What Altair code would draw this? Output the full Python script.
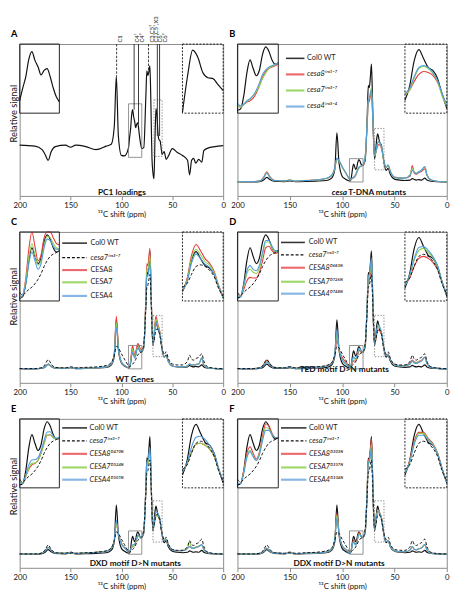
import altair as alt
import pandas as pd

FONT = "Lato"

# ---------------- data ----------------
ppm = [200, 185, 178, 175, 172, 169, 165, 155, 150, 145,
       135, 125, 115, 110, 107, 105, 103, 100, 97, 93,
       92, 91, 90, 89, 88, 87, 86, 85, 84, 83,
       82, 81, 80, 78, 76, 75, 74, 73, 72, 71,
       70, 69, 68, 67, 66, 65, 64, 63, 62, 61,
       60, 58, 56, 54, 50, 45, 40, 35, 33, 31,
       29, 27, 24, 21, 19, 15, 8, 0]

pc1_loadings = [0.5, -0.5, -4, -9, -15, -6, -1, 0.5, -1.5, 0.5,
                -1, -4, -0.5, 1.5, 20, 71.5, 10, -10, -10.5, -2,
                8, 17, 31, 37, 30, 25, 18.5, 22, 23.5, 17,
                8, 1, -3, -2, 50, 77, 72, 76, 82, 42,
                -12, -28, -34, 8, 38, 30, 12, 6, 5, -2,
                -9, -6, -14, -11, -3, -7, -10, -15, -30, -15,
                -13, -18, -14, -17, -5, -2.5, -1, 0]

col0_wt = [0.3, 0.0, 0.6, 2.0, 4.8, 2.5, 0.8, 0.4, 1.2, 0.3,
           0.5, 0.9, 1.5, 4.0, 13, 50.5, 20, 6, 3, 1,
           1.5, 6, 14, 18.5, 15.5, 13, 15, 20.5, 23, 21.5,
           18.5, 17, 17.5, 22, 68, 99, 97, 108, 121, 86,
           44, 24, 31, 44, 49.5, 45, 40.5, 39, 35, 27,
           20, 12, 14, 8, 3, 2, 1.5, 2, 3.5, 2.5,
           2, 2.5, 2, 4, 2, 0.8, 0.3, 0]

cesa7_irx3_7 = [0.3, 0.3, 1.2, 4.5, 9.5, 5, 1.5, 1, 2.2, 1,
                1.5, 2, 3.5, 6.5, 14, 23, 21.5, 15.5, 10, 3,
                2, 3, 4, 4.8, 6, 7.5, 9.5, 12, 14, 15.5,
                16.3, 16.8, 17.5, 26, 62, 84, 86, 92, 97, 76,
                46, 27, 29, 35, 40, 41, 40, 37.5, 33.5, 26,
                21, 15, 17.5, 11, 5, 4, 4, 8, 14, 10,
                9, 10.5, 12, 15.5, 8, 2, 0.6, 0.2]

cesa8_irx1_7 = [0.2, 0.4, 1.5, 5, 10.5, 5.5, 1.8, 1.2, 2, 0.8,
                1.6, 2.2, 3.5, 6.5, 14, 24, 22, 15.5, 10, 3,
                2, 3, 3.8, 4.3, 5.2, 7, 9.5, 12.5, 14.5, 15.5,
                16, 16.5, 17, 25, 60, 81, 83, 88, 91, 72,
                45, 27, 29, 33.5, 37, 38.5, 38, 36.5, 33, 27,
                21, 15, 17, 11, 5, 4.5, 4, 6, 17, 9,
                8, 9.5, 11, 13.5, 7, 2, 0.5, 0.3]

cesa4_irx5_4 = [0.2, 0.4, 1.2, 4.2, 9, 4.8, 1.5, 1.1, 2, 1,
                1.5, 2, 3.8, 7, 15, 24.5, 22, 16, 10.5, 3.5,
                2.5, 3.2, 4.3, 5, 6.2, 8, 10.5, 13.5, 15, 16,
                16.5, 17, 17.5, 26, 62, 84, 86, 91, 95, 75,
                46, 27.5, 30, 36, 40.5, 41.5, 40.5, 38, 34, 27.5,
                21.5, 15, 17.5, 11, 5, 4, 4, 7, 12, 9.5,
                9, 10, 12.5, 16, 8, 2, 0.6, 0.2]

wt_cesa8 = [0.3, 0.2, 0.8, 2.2, 4.5, 2.6, 0.9, 0.6, 1.3, 0.5,
            0.8, 1.2, 2, 5, 17, 54, 23, 7, 3.5, 1.2,
            2, 8, 18, 24, 19, 14, 16, 22, 26, 25,
            22, 20, 19.5, 24, 74, 108, 106, 115, 124, 90,
            47, 25, 32, 47, 54, 50, 45, 42, 37, 28,
            21, 12.5, 13, 8, 3, 2.2, 2, 3, 5, 4,
            4, 4.5, 5, 11, 4, 1, 0.3, 0]

wt_cesa7 = [0.3, 0.2, 0.8, 2.3, 4.6, 2.6, 0.9, 0.6, 1.3, 0.5,
            0.8, 1.2, 2, 5, 16, 48, 22, 7, 3.5, 1.2,
            2, 7, 15, 20, 16, 12.5, 14, 19.5, 22.5, 22,
            20, 18.5, 18, 23, 71, 103, 101, 109, 117, 87,
            46, 25, 31, 45, 51, 47.5, 43, 41, 36, 27.5,
            20.5, 12.5, 13, 8, 3, 2.2, 2, 3, 5, 4,
            4, 4.5, 5, 11, 4, 1, 0.3, 0]

wt_cesa4 = [0.3, 0.2, 0.8, 2.2, 4.4, 2.5, 0.9, 0.6, 1.3, 0.5,
            0.8, 1.2, 2, 5, 15, 42.5, 21, 7, 3.5, 1.2,
            2, 6, 13, 17, 14, 11, 13, 18.5, 21.5, 21,
            19, 18, 18, 23, 67, 97, 95, 102, 109, 83,
            45, 25, 30, 42, 48, 45, 41.5, 39.5, 35, 27,
            20.5, 12.5, 13, 8, 3, 2.2, 2, 3, 5, 4,
            4, 4.5, 5, 11, 4, 1, 0.3, 0]

ted_cesa8 = [0.3, 0.3, 1.3, 4.5, 9, 5, 1.6, 1, 2, 0.8,
             1.3, 1.8, 3, 6, 14, 30, 20, 12, 7.5, 2.5,
             1.5, 4, 7, 8.2, 8, 8, 10, 14, 18.5, 19,
             17.5, 16.5, 17, 25, 66, 90, 91, 97, 102, 80,
             45, 26, 29, 35, 39, 40, 39, 37, 33.5, 27,
             21, 14.5, 15, 10, 4.5, 3.5, 3.5, 6, 9, 7,
             6.5, 7.5, 9, 12, 6, 1.6, 0.5, 0.2]

ted_cesa7 = [0.3, 0.3, 1.1, 3.8, 7.5, 4.2, 1.3, 0.9, 1.8, 0.7,
             1.1, 1.6, 2.6, 5.5, 15, 36, 21, 10, 6, 2,
             1.5, 5, 9.5, 11, 10, 9.5, 11.5, 16, 20.5, 20.5,
             18.5, 17, 17.5, 24, 67, 94, 95, 103, 110, 83,
             45, 25.5, 30, 38, 43, 44, 42, 39.5, 35, 27,
             21, 14, 14.5, 9.5, 4, 3, 3, 5, 8, 6,
             6, 7, 8.5, 12, 5.5, 1.5, 0.5, 0.2]

ted_cesa4 = [0.3, 0.3, 1, 3.5, 7, 4, 1.2, 0.8, 1.7, 0.6,
             1, 1.5, 2.5, 5.5, 15.5, 40, 21, 9, 5.5, 1.8,
             1.5, 5.5, 10.5, 12.3, 11, 10.5, 12.5, 17, 21, 21,
             19, 17.5, 17.5, 24, 67, 96, 97, 106, 114, 84,
             45, 25, 30.5, 39, 44.5, 45, 43, 40, 35.5, 27,
             21, 13.5, 14.5, 9.5, 4, 3, 3, 5, 8, 6,
             5.5, 6.5, 8, 12, 5.5, 1.5, 0.5, 0.2]

dxd_cesa8 = [0.3, 0.3, 1.2, 3.5, 7, 4, 1.4, 1, 1.8, 0.8,
             1.5, 2, 3, 6, 14, 32, 21, 11.5, 7, 2.5,
             1.5, 4, 6.5, 8, 8.5, 9.5, 12, 15.5, 18.3, 18.5,
             17.5, 17, 17, 25, 66, 92, 93, 100, 105, 81,
             45, 26, 29.5, 35.5, 39.5, 40, 39, 37, 33.5, 27,
             21, 14.5, 15, 10, 4.5, 3.5, 3.5, 6, 8, 6.5,
             6, 7, 8, 9.5, 5, 1.5, 0.5, 0.2]

dxd_cesa7 = [0.3, 0.3, 1.2, 3.6, 7, 4, 1.4, 1, 1.8, 0.8,
             1.5, 2, 3, 6, 14, 31.5, 21, 11.5, 7, 2.5,
             1.5, 4, 6.8, 8.6, 8.6, 9.6, 12, 15.5, 18.3, 18.5,
             17.5, 17, 17, 25, 65, 91, 92, 99, 104, 81,
             45, 26, 29.5, 35.5, 39.5, 40, 39, 37, 33.5, 27,
             21, 14.5, 15.5, 10, 4.5, 3.5, 4, 6.5, 13, 7,
             6.5, 7.5, 8.5, 9, 5, 1.5, 0.5, 0.2]

dxd_cesa4 = [0.3, 0.3, 1.1, 3.4, 7, 4, 1.3, 0.9, 1.7, 0.7,
             1.3, 1.8, 2.8, 6, 15, 35, 21, 10.5, 6.5, 2.2,
             1.5, 4.5, 8, 9.7, 9.8, 10.5, 13, 16.5, 19.4, 19.5,
             18, 17.3, 17.3, 24.5, 67, 95, 96, 104, 110, 83,
             45, 25.5, 30, 38, 43, 43.5, 42, 39, 35, 27,
             21, 14, 15, 10, 4.5, 3.5, 3.5, 6, 8, 6.5,
             6, 7, 8, 10, 5, 1.5, 0.5, 0.2]

ddx_cesa8 = [0.3, 0.2, 0.9, 2.8, 6, 3.3, 1.1, 0.7, 1.5, 0.5,
             1, 1.4, 2.2, 5, 16, 42, 22, 8.5, 5, 1.5,
             1.5, 6, 12, 14.3, 12, 10, 12.5, 18, 22.3, 21.5,
             19, 17.5, 17.5, 23, 68, 98, 97, 107, 119, 86,
             45, 25, 31, 41, 45.5, 45.5, 42.5, 40, 35, 27,
             20.5, 13, 14, 9, 3.5, 2.5, 2.5, 4.5, 8, 5,
             4.5, 5.5, 6.5, 10, 4.5, 1.2, 0.4, 0.1]

ddx_cesa7 = [0.3, 0.2, 0.9, 2.9, 6, 3.3, 1.1, 0.7, 1.5, 0.5,
             1, 1.4, 2.3, 5, 15.5, 40, 22, 9, 5.5, 1.6,
             1.5, 5.5, 11, 13.1, 11, 9.5, 12, 17, 21, 20.5,
             18.5, 17.5, 17.5, 23, 67, 96, 95, 104, 113, 85,
             45, 25, 30.5, 40, 45, 45, 42, 39.5, 35, 27,
             20.5, 13, 14, 9, 3.5, 2.5, 2.5, 4.5, 8, 5,
             4.5, 5.5, 6.5, 10, 4.5, 1.2, 0.4, 0.1]

ddx_cesa4 = [0.3, 0.2, 0.9, 3, 6.2, 3.4, 1.1, 0.7, 1.5, 0.5,
             1, 1.4, 2.3, 5, 15, 37, 21.5, 9, 5.5, 1.6,
             1.5, 5, 10.5, 12.6, 10.8, 9.5, 11.5, 16.5, 20, 20,
             18.5, 17.5, 17.5, 23, 66, 95, 94, 102, 110, 84,
             45, 25, 30, 39.5, 44, 44, 41.5, 39, 34.5, 27,
             20.5, 13, 14, 9, 3.5, 2.5, 2.5, 4.5, 8, 5,
             4.5, 5.5, 6.5, 10, 4.5, 1.2, 0.4, 0.1]

x_ticks = [200, 150, 100, 50, 0]
peak_labels = ["C1", "C4¹", "C4²", "C3,C5²", "C2,C5¹,X3", "C6¹", "C6²"]
peak_label_ppm = [104.1, 87.5, 83.2, 73.4, 69.1, 64.7, 60.3]

for _arr in [pc1_loadings, col0_wt, cesa7_irx3_7, cesa8_irx1_7, cesa4_irx5_4,
             wt_cesa8, wt_cesa7, wt_cesa4, ted_cesa8, ted_cesa7, ted_cesa4,
             dxd_cesa8, dxd_cesa7, dxd_cesa4, ddx_cesa8, ddx_cesa7, ddx_cesa4]:
    assert len(_arr) == len(ppm), len(_arr)

# ---------------- styles ----------------
RED, GREEN, BLUE, BLK = "#e8393e", "#8fd14f", "#4f9de0", "#111111"
STYLE = {
    "black": dict(color=BLK, strokeWidth=1.2),
    "dash": dict(color=BLK, strokeWidth=1.0, strokeDash=[3, 2]),
    "red": dict(color=RED, strokeWidth=1.1),
    "green": dict(color=GREEN, strokeWidth=1.1),
    "blue": dict(color=BLUE, strokeWidth=1.1),
}
LEG_STYLE = {
    "black": dict(color="#333333", strokeWidth=1.6),
    "dash": dict(color=BLK, strokeWidth=1.2, strokeDash=[3, 2]),
    "red": dict(color="#ec6a6e", strokeWidth=2.2),
    "green": dict(color="#9fd86a", strokeWidth=2.2),
    "blue": dict(color="#86b6e4", strokeWidth=2.2),
}

WL, WR = 209, 215
MUT = "cesa7ⁱʳˣ³⁻⁷"

panels = [
    dict(letter="A", left=True, w=WL, h=156, dom=(-51.6, 104.4), ty=71,
         series=[("pc1", pc1_loadings, "black")],
         boxL=(93, 80, -12, 43), boxR=(68, 60, -11, 47),
         insL=(93, 80, -12, 43), insR=(68, 60, -35, 45),
         legend=None, footer=[("PC1 loadings", 99.5, -47.3, "center", "normal")]),
    dict(letter="B", left=False, w=WR, h=156, dom=(-14.3, 141.7),
         series=[("col0", col0_wt, "black"), ("m8", cesa8_irx1_7, "red"),
                 ("m7", cesa7_irx3_7, "green"), ("m4", cesa4_irx5_4, "blue")],
         boxL=(93, 80, 0, 24), boxR=(69, 60, 12.5, 55),
         insL=(93, 80, 0, 24), insR=(69, 60, 17.5, 52.3),
         legend=dict(x1=153.7, x2=136, tx=133.5, rows=[127, 110.5, 94, 77.5],
                     entries=[("Col0 WT", "black", "normal"), ("cesa8ⁱʳˣ¹⁻⁷", "red", "italic"),
                              (MUT, "green", "italic"), ("cesa4ⁱʳˣ⁵⁻⁴", "blue", "italic")]),
         footer=[("cesa", 95.2, -10, "right", "italic"), ("T-DNA mutants", 94.2, -10, "left", "normal")]),
    dict(letter="C", left=True, w=WL, h=155, dom=(-14.4, 140.8), ty=66,
         series=[("col0", col0_wt, "black"), ("c8", wt_cesa8, "red"), ("c7", wt_cesa7, "green"),
                 ("c4", wt_cesa4, "blue"), ("mut", cesa7_irx3_7, "dash")],
         boxL=(93, 80, 0, 24), boxR=(69, 60, 12.5, 55),
         insL=(93, 80, 0, 24), insR=(69, 60, 18, 62),
         legend=dict(x1=158.2, x2=133.8, tx=130.5, rows=[129.3, 114.3, 101.6, 89, 75],
                     entries=[("Col0 WT", "black", "normal"), (MUT, "dash", "italic"),
                              ("CESA8", "red", "normal"), ("CESA7", "green", "normal"),
                              ("CESA4", "blue", "normal")]),
         footer=[("WT Genes", 87, -10.4, "center", "normal")]),
    dict(letter="D", left=False, w=WR, h=155, dom=(-14.4, 140.8),
         series=[("col0", col0_wt, "black"), ("t8", ted_cesa8, "red"), ("t7", ted_cesa7, "green"),
                 ("t4", ted_cesa4, "blue"), ("mut", cesa7_irx3_7, "dash")],
         boxL=(93, 80, 0, 24), boxR=(69, 60, 12.5, 55),
         insL=(93, 80, 0, 24), insR=(69, 60, 17.5, 52.3),
         legend=dict(x1=158.4, x2=135.6, tx=131.9, rows=[130, 117.3, 104, 89.6, 77.3],
                     entries=[("Col0 WT", "black", "normal"), (MUT, "dash", "italic"),
                              ("CESA8ᴰ⁶⁸³ᴺ", "red", "italic"), ("CESA7ᴰ⁷²⁶ᴺ", "green", "italic"),
                              ("CESA4ᴰ⁷⁴⁸ᴺ", "blue", "italic")]),
         footer=[("TED motif D>N mutants", 98, 0, "center", "normal")]),
    dict(letter="E", left=True, w=WL, h=153, dom=(-14, 139.3), ty=69,
         series=[("col0", col0_wt, "black"), ("x8", dxd_cesa8, "red"), ("x7", dxd_cesa7, "green"),
                 ("x4", dxd_cesa4, "blue"), ("mut", cesa7_irx3_7, "dash")],
         boxL=(93, 80, 0, 24), boxR=(69, 60, 12.5, 55),
         insL=(93, 80, 0, 24), insR=(69, 60, 17.5, 52.3),
         legend=dict(x1=158.2, x2=133.8, tx=131.3, rows=[130, 116.7, 103.3, 89.3, 76.7],
                     entries=[("Col0 WT", "black", "normal"), (MUT, "dash", "italic"),
                              ("CESA8ᴰ⁴⁷⁰ᴺ", "red", "italic"), ("CESA7ᴰ⁵²⁴ᴺ", "green", "italic"),
                              ("CESA4ᴰ⁵⁰¹ᴺ", "blue", "italic")]),
         footer=[("DXD motif D>N mutants", 86.3, -9.3, "center", "normal")]),
    dict(letter="F", left=False, w=WR, h=153, dom=(-14, 139.3),
         series=[("col0", col0_wt, "black"), ("d8", ddx_cesa8, "red"), ("d7", ddx_cesa7, "green"),
                 ("d4", ddx_cesa4, "blue"), ("mut", cesa7_irx3_7, "dash")],
         boxL=(93, 80, 0, 24), boxR=(69, 60, 12.5, 55),
         insL=(93, 80, 0, 24), insR=(69, 60, 17.5, 52.3),
         legend=dict(x1=158.4, x2=134.1, tx=131.6, rows=[130, 116.7, 103.3, 89.3, 76.7],
                     entries=[("Col0 WT", "black", "normal"), (MUT, "dash", "italic"),
                              ("CESA8ᴰ³⁰³ᴺ", "red", "italic"), ("CESA7ᴰ³⁵⁷ᴺ", "green", "italic"),
                              ("CESA4ᴰ³³⁴ᴺ", "blue", "italic")]),
         footer=[("DDX motif D>N mutants", 103, -9.3, "center", "normal")]),
]


def make_panel(cfg):
    lo_dom, T = cfg["dom"]
    xs = alt.Scale(domain=[200, 0], nice=False, zero=False)
    ys = alt.Scale(domain=[lo_dom, T], nice=False, zero=False)
    xaxis = alt.Axis(values=x_ticks, title="¹³C shift (ppm)", domain=False, grid=False,
                     ticks=True, tickSize=4, tickColor="#8a8a8a", labelFontSize=8,
                     labelPadding=2, labelColor="#111111", titleFontSize=8,
                     titleFontWeight="normal", titlePadding=1, titleColor="#111111",
                     labelFlush=False)
    if cfg["left"]:
        yaxis = alt.Axis(title="Relative signal", domain=False, grid=False, ticks=False,
                         labels=False, titleFontSize=9.5, titleFontWeight="normal",
                         titleColor="#111111", titleX=-1, titleY=cfg["ty"], titleAngle=270,
                         titleBaseline="bottom", titleAlign="center")
    else:
        yaxis = None

    def X(f):
        return alt.X(f, type="quantitative", scale=xs, axis=xaxis)

    def Y(f):
        return alt.Y(f, type="quantitative", scale=ys, axis=yaxis)

    rows = []
    for key, vals, sty in cfg["series"]:
        for p_, v_ in zip(ppm, vals):
            rows.append({"s": key, "ppm": p_, "v": v_})
    df = pd.DataFrame(rows)

    layers = []
    # main spectra
    for key, vals, sty in cfg["series"]:
        layers.append(alt.Chart(df).transform_filter(alt.datum.s == key)
                      .mark_line(interpolate="monotone", **STYLE[sty])
                      .encode(x=X("ppm"), y=Y("v")))
    # zoom boxes in main plot
    for (b0, b1, y0, y1), dash in [(cfg["boxL"], None), (cfg["boxR"], [1.5, 1.5])]:
        bdf = pd.DataFrame({"x1": [b0], "x2": [b1], "y1": [y0], "y2": [y1]})
        kw = dict(fillOpacity=0, stroke="#777777", strokeWidth=0.8)
        if dash:
            kw["strokeDash"] = dash
        layers.append(alt.Chart(bdf).mark_rect(**kw)
                      .encode(x=X("x1"), x2="x2:Q", y=Y("y1"), y2="y2:Q"))
    # insets
    ib, it = T - 71, T
    for (bx0, bx1, ylo, yhi), (ix0, ix1), dash in [(cfg["insL"], (200, 161), None),
                                                   (cfg["insR"], (40, 0), [2, 1.5])]:
        sx = (ix1 - ix0) / (bx1 - bx0)
        sy = (it - ib) / (yhi - ylo)
        for key, vals, sty in cfg["series"]:
            layers.append(
                alt.Chart(df)
                .transform_filter(f"datum.s == '{key}' && datum.ppm <= {bx0 + 1e-6} && datum.ppm >= {bx1 - 1e-6}")
                .transform_calculate(
                    IX=f"{ix0} + (datum.ppm - ({bx0})) * ({sx})",
                    IY=f"{ib} + (clamp(datum.v, {ylo}, {yhi}) - ({ylo})) * ({sy})")
                .mark_line(interpolate="monotone", **STYLE[sty])
                .encode(x=X("IX"), y=Y("IY")))
        idf = pd.DataFrame({"x1": [ix0], "x2": [ix1], "y1": [ib], "y2": [it]})
        kw = dict(fillOpacity=0, stroke="#222222", strokeWidth=1)
        if dash:
            kw["strokeDash"] = dash
        layers.append(alt.Chart(idf).mark_rect(**kw)
                      .encode(x=X("x1"), x2="x2:Q", y=Y("y1"), y2="y2:Q"))
    # legend
    leg = cfg["legend"]
    if leg:
        for (lab, sty, fst), yy in zip(leg["entries"], leg["rows"]):
            ldf = pd.DataFrame({"a": [leg["x1"]], "b": [leg["x2"]], "y": [yy],
                                "tx": [leg["tx"]], "t": [lab]})
            layers.append(alt.Chart(ldf).mark_rule(**LEG_STYLE[sty])
                          .encode(x=X("a"), x2="b:Q", y=Y("y")))
            layers.append(alt.Chart(ldf).mark_text(align="left", baseline="middle", fontSize=7.5,
                                                   font=FONT, fontStyle=fst, color="#222222")
                          .encode(x=X("tx"), y=Y("y"), text="t:N"))
    # footer title
    for txt, fx, fy, al, fst in cfg["footer"]:
        fdf = pd.DataFrame({"x": [fx], "y": [fy], "t": [txt]})
        layers.append(alt.Chart(fdf).mark_text(align=al, baseline="middle", fontSize=8.5,
                                               font=FONT, fontWeight="bold", fontStyle=fst,
                                               color="#111111")
                      .encode(x=X("x"), y=Y("y"), text="t:N"))
    # panel A peak assignments
    if cfg["letter"] == "A":
        ldf = pd.DataFrame({"x": peak_label_ppm, "y": [T] * len(peak_labels), "t": peak_labels})
        layers.append(alt.Chart(ldf).mark_text(angle=270, align="left", baseline="top", dx=1.5,
                                               dy=0.3, fontSize=6, font=FONT, color="#222222")
                      .encode(x=X("x"), y=Y("y"), text="t:N"))
        dash_df = pd.DataFrame({"x": [104.7, 73.4], "y1": [T, T], "y2": [71.5, 77]})
        solid_df = pd.DataFrame({"x": [87.5, 83.2, 64.7, 62.5], "y1": [T] * 4,
                                 "y2": [37, 22, 10, 10]})
        layers.append(alt.Chart(dash_df).mark_rule(color="#222222", strokeWidth=0.9,
                                                   strokeDash=[2.5, 1.5])
                      .encode(x=X("x"), y=Y("y1"), y2="y2:Q"))
        layers.append(alt.Chart(solid_df).mark_rule(color="#222222", strokeWidth=0.9)
                      .encode(x=X("x"), y=Y("y1"), y2="y2:Q"))
    # panel letter
    let_x = -9 if cfg["left"] else -8.5
    layers.append(alt.Chart(pd.DataFrame({"t": [cfg["letter"]]}))
                  .mark_text(align="left", baseline="bottom", fontSize=9.5, fontWeight="bold",
                             font=FONT, color="#000000")
                  .encode(x=alt.value(let_x), y=alt.value(-5), text="t:N"))
    return alt.layer(*layers).properties(width=cfg["w"], height=cfg["h"])


charts = [make_panel(p) for p in panels]

chart = (
    alt.concat(*charts, columns=2, spacing={"row": 37, "column": 14.7},
               bounds="flush", align="each")
    .properties(padding=0)
    .configure(font=FONT)
    .configure_view(stroke="#8a8a8a", strokeWidth=1)
)

chart.save("out.html", embed_options={"renderer": "svg", "actions": False})
